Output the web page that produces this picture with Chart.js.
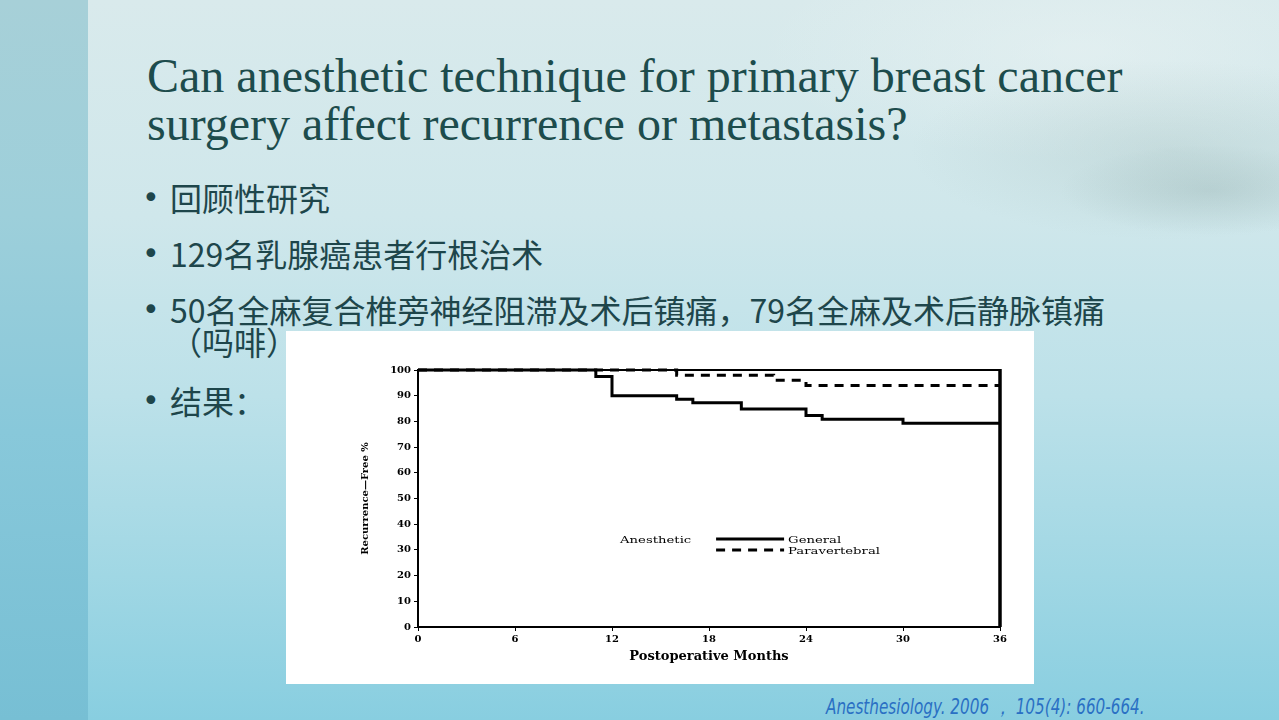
<!DOCTYPE html>
<html>
<head>
<meta charset="utf-8">
<script src="https://cdn.jsdelivr.net/npm/chart.js@4.4.1/dist/chart.umd.min.js"></script>
<style>
  html, body { margin: 0; padding: 0; }
  #slide {
    position: relative; width: 1279px; height: 720px; overflow: hidden;
    background:
      radial-gradient(ellipse 150px 45px at 1210px 190px, rgba(120,150,148,0.22), rgba(120,150,148,0) 100%),
      radial-gradient(ellipse 260px 90px at 1170px 150px, rgba(160,185,182,0.28), rgba(160,185,182,0) 100%),
      radial-gradient(ellipse 320px 110px at 1080px 50px, rgba(238,245,245,0.45), rgba(238,245,245,0) 100%),
      linear-gradient(to bottom, #d9eaec 0%, #cfe7eb 30%, #bce1e9 55%, #a0d7e4 80%, #88cee0 100%);
  }
  #strip {
    position: absolute; left: 0; top: 0; width: 88px; height: 720px;
    background: linear-gradient(to bottom, #a7d0d8 0%, #9dcfda 30%, #88c8da 60%, #77bfd4 100%);
  }
  #title {
    position: absolute; left: 147px; top: 52px; width: 1050px;
    font-family: "Liberation Serif", serif; font-size: 48px; line-height: 48px;
    color: #1d4c4c;
  }
  .line {
    position: absolute; left: 170px; height: 32px;
    font-family: "Noto Sans CJK SC", sans-serif; font-size: 32px; line-height: 32px;
    color: #1e464b; white-space: nowrap;
  }
  .dot {
    position: absolute; left: 142px; height: 32px;
    font-family: "DejaVu Sans", sans-serif; font-size: 30px; line-height: 32px;
    color: #1e464b;
  }
  #figure {
    position: absolute; left: 286px; top: 331px; width: 748px; height: 353px;
    background: #ffffff;
  }
  #cite {
    position: absolute; left: 826px; top: 693px; height: 28px;
    font-family: "DejaVu Sans Condensed", "DejaVu Sans", sans-serif; font-style: italic;
    font-size: 21px; line-height: 28px; color: #2a70c4; white-space: nowrap;
    transform-origin: 0 50%;
  }
</style>
</head>
<body>
<div id="slide">
  <div id="strip"></div>
  <div id="title">Can anesthetic technique for primary breast cancer<br>surgery affect recurrence or metastasis?</div>

  <div class="dot" style="top:182px">•</div>
  <div class="line" style="top:181px">回顾性研究</div>
  <div class="dot" style="top:238px">•</div>
  <div class="line" style="top:237px">129名乳腺癌患者行根治术</div>
  <div class="dot" style="top:294px">•</div>
  <div class="line" style="top:293px">50名全麻复合椎旁神经阻滞及术后镇痛，79名全麻及术后静脉镇痛</div>
  <div class="line" style="top:325px">（吗啡）</div>
  <div class="dot" style="top:385px">•</div>
  <div class="line" style="top:384px">结果：</div>

  <div id="figure"><canvas id="kmChart" width="748" height="353"></canvas></div>
  <div id="cite">Anesthesiology. 2006 ，  105(4): 660-664.</div>
</div>

<script>
// Kaplan-Meier steps
const generalMonths = [0, 11, 12, 16, 17, 20, 24, 25, 30, 36];
const generalFree   = [100, 97.5, 90, 88.6, 87.3, 84.8, 82.3, 80.8, 79.3, 79.3];
const paraMonths    = [0, 16, 22, 24, 36];
const paraFree      = [100, 98, 96, 94, 94];

const xTicks = [0, 6, 12, 18, 24, 30, 36];
const yTicks = [0, 10, 20, 30, 40, 50, 60, 70, 80, 90, 100];

const legendTitle = 'Anesthetic';
const seriesNames = ['General', 'Paravertebral'];

function toPoints(xs, ys) {
    return xs.map((x, i) => ({ x: x, y: ys[i] }));
}

// squeeze the citation into its narrow width
const cite = document.getElementById('cite');
cite.style.transform = 'scaleX(' + (319 / cite.scrollWidth) + ')';

// top + right frame of the plot
const frameBox = {
    id: 'frameBox',
    afterDatasetsDraw(chart) {
        const { ctx, chartArea: a } = chart;
        ctx.save();
        ctx.strokeStyle = '#000';
        ctx.lineWidth = 2;
        ctx.beginPath();
        ctx.moveTo(a.left, a.top);
        ctx.lineTo(a.right, a.top);
        ctx.stroke();
        ctx.lineWidth = 3.5;
        ctx.beginPath();
        ctx.moveTo(a.right, a.top - 1);
        ctx.lineTo(a.right, a.bottom);
        ctx.stroke();
        ctx.restore();
    }
};

// legend sitting inside the plot, like the original figure
const innerLegend = {
    id: 'innerLegend',
    afterDraw(chart) {
        const { ctx, scales } = chart;
        const x0 = scales.x.getPixelForValue(12.5);
        const y0 = scales.y.getPixelForValue(33.5);
        ctx.save();
        ctx.fillStyle = '#000';
        ctx.textBaseline = 'middle';
        ctx.font = '10px "DejaVu Serif"';
        const stretchText = (txt, x, y) => {
            ctx.save();
            ctx.translate(x, y);
            ctx.scale(1.32, 1);
            ctx.fillText(txt, 0, 0);
            ctx.restore();
        };
        stretchText(legendTitle, x0, y0);
        chart.data.datasets.forEach((ds, i) => {
            const ly = y0 - 2 + i * 11;
            ctx.strokeStyle = ds.borderColor;
            ctx.lineWidth = ds.borderWidth;
            ctx.setLineDash(ds.borderDash || []);
            ctx.beginPath();
            ctx.moveTo(x0 + 96, ly);
            ctx.lineTo(x0 + 164, ly);
            ctx.stroke();
            ctx.setLineDash([]);
            stretchText(seriesNames[i], x0 + 168, ly + 2);
        });
        ctx.restore();
    }
};

const tickFont = { family: 'DejaVu Serif', size: 10, weight: 'bold' };

new Chart(document.getElementById('kmChart').getContext('2d'), {
    type: 'line',
    data: {
        datasets: [{
            label: seriesNames[0],
            data: toPoints(generalMonths, generalFree),
            stepped: true,
            borderColor: '#000',
            borderWidth: 3,
            pointRadius: 0,
            fill: false
        }, {
            label: seriesNames[1],
            data: toPoints(paraMonths, paraFree),
            stepped: true,
            borderColor: '#000',
            borderWidth: 3,
            borderDash: [9, 7],
            pointRadius: 0,
            fill: false
        }]
    },
    options: {
        responsive: false,
        animation: false,
        clip: false,
        layout: { padding: { left: 70, right: 34, top: 39, bottom: 0 } },
        plugins: {
            legend: { display: false },
            tooltip: { enabled: false }
        },
        scales: {
            x: {
                type: 'linear',
                min: 0,
                max: 36,
                afterFit: scale => { scale.height = 57; },
                afterBuildTicks: scale => { scale.ticks = xTicks.map(v => ({ value: v })); },
                ticks: { color: '#000', font: tickFont, padding: 2, maxRotation: 0 },
                grid: { drawOnChartArea: false, drawTicks: true, tickLength: 4, color: '#000', lineWidth: 1 },
                border: { display: true, color: '#000', width: 2 },
                title: {
                    display: true,
                    text: 'Postoperative Months',
                    color: '#000',
                    font: { family: 'DejaVu Serif', size: 13, weight: 'bold' },
                    padding: { top: 0, bottom: 20 }
                }
            },
            y: {
                min: 0,
                max: 100,
                afterFit: scale => { scale.width = 62; },
                afterBuildTicks: scale => { scale.ticks = yTicks.map(v => ({ value: v })); },
                ticks: { color: '#000', font: tickFont, padding: 3 },
                grid: { drawOnChartArea: false, drawTicks: true, tickLength: 4, color: '#000', lineWidth: 1 },
                border: { display: true, color: '#000', width: 2 },
                title: {
                    display: true,
                    text: 'Recurrence\u2014Free %',
                    color: '#000',
                    font: { family: 'DejaVu Serif', size: 10, weight: 'bold' },
                    padding: { top: 3, bottom: 0 }
                }
            }
        }
    },
    plugins: [frameBox, innerLegend]
});
</script>
</body>
</html>
